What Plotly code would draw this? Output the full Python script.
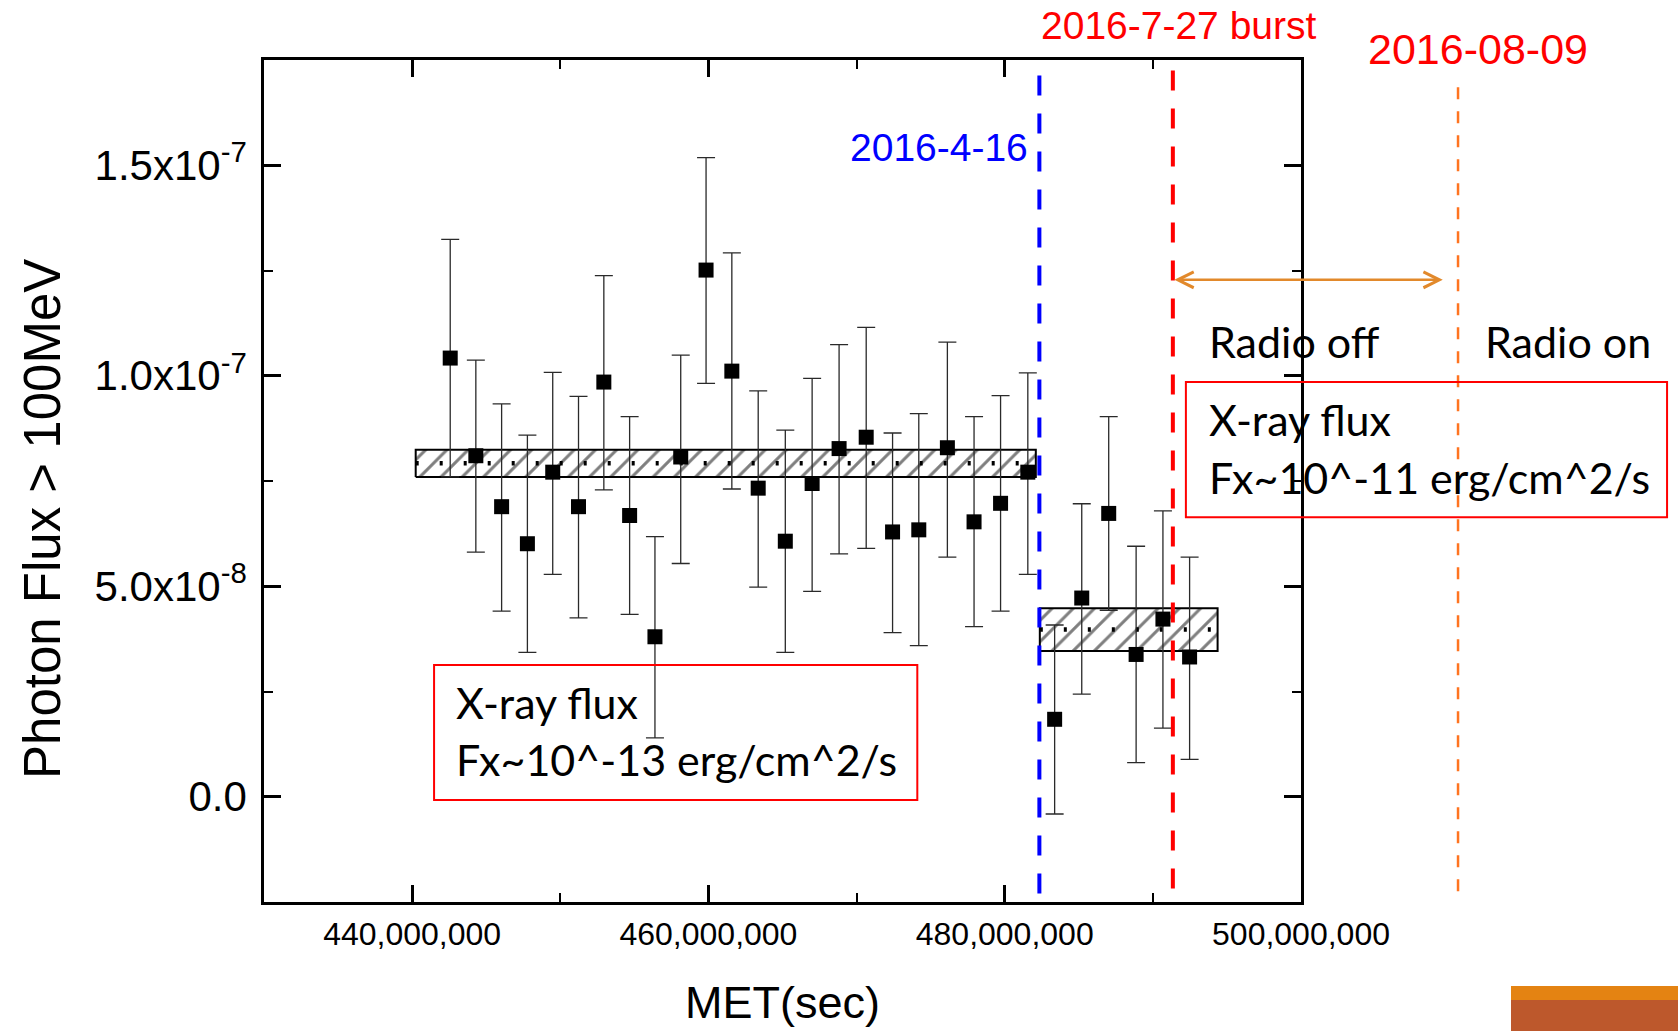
import plotly.graph_objects as go

# ---- Fermi-LAT light curve (> 100 MeV) ----
# bin centres, MET in units of 1e6 s
MET_E6 = [442.57, 444.30, 446.04, 447.78, 449.49, 451.23, 452.94, 454.68, 456.39, 458.13,
          459.84, 461.58, 463.36, 465.19, 467.00, 468.82, 470.65, 472.43, 474.20, 476.13,
          477.93, 479.72, 481.56, 483.37, 485.20, 487.02, 488.87, 490.68, 492.48]
# photon flux and 1-sigma bounds, units of 1e-8 ph cm^-2 s^-1
FLUX_E8 = [10.42, 8.10, 6.89, 6.01, 7.71, 6.89, 9.85, 6.68, 3.80, 8.07,
           12.51, 10.11, 7.33, 6.07, 7.44, 8.27, 8.54, 6.29, 6.34, 8.29,
           6.53, 6.97, 7.71, 1.84, 4.72, 6.73, 3.38, 4.22, 3.32]
FLUX_HI_E8 = [13.24, 10.37, 9.33, 8.59, 10.08, 9.51, 12.38, 9.03, 6.18, 10.49,
              15.18, 12.92, 9.64, 8.71, 9.94, 10.74, 11.15, 8.64, 9.10, 10.80,
              9.03, 9.53, 10.07, 4.08, 6.96, 9.03, 5.95, 6.79, 5.69]
FLUX_LO_E8 = [7.60, 5.81, 4.41, 3.43, 5.28, 4.25, 7.29, 4.33, 1.40, 5.54,
              9.82, 7.31, 4.98, 3.43, 4.88, 5.77, 5.90, 3.90, 3.59, 5.69,
              4.04, 4.41, 5.28, -0.41, 2.44, 4.43, 0.81, 1.63, 0.89]

# average flux before / after 2016-04-16 (mean +/- 1 sigma)
BAND_START_E6 = [440.24, 482.37]
BAND_END_E6 = [482.10, 494.37]
BAND_MEAN_E8 = [7.92, 3.97]
BAND_HALF_E8 = [0.325, 0.51]

# epochs marked on the time axis
EVENT_LABELS = ["2016-4-16", "2016-7-27 burst"]
EVENT_MET_E6 = [482.34, 491.35]
EVENT_COLORS = ["#0000FF", "#FF0000"]
EVENT_TOP_E8 = [17.13, 17.25]
RADIO_ON_LABEL = "2016-08-09"
RADIO_ON_MET_E6 = 510.6
RADIO_ON_TOP_E8 = 16.85
ARROW_LEVEL_E8 = 12.28
ARROW_END_MET_E6 = 509.57

X_TICKS = [440e6, 460e6, 480e6, 500e6]
Y_TICKS = [0.0, 5e-8, 1e-7, 1.5e-7]
Y_TICK_TEXT = ["0.0", "5.0x10<sup>-8</sup>", "1.0x10<sup>-7</sup>", "1.5x10<sup>-7</sup>"]

W, H = 1678, 1031
M_L, M_R, M_T, M_B = 264, 377, 60, 129
PLOT_W = W - M_L - M_R
X_RANGE = [430e6, 500e6]
Y_RANGE = [-2.5e-8, 1.75e-7]

ARIAL = "Arial, Liberation Sans, sans-serif"
CALIBRI = "Lato, Carlito, sans-serif"


def xp(x):
    """data x -> paper x"""
    return (x - X_RANGE[0]) / (X_RANGE[1] - X_RANGE[0])


def yp(y):
    """data y -> paper y"""
    return (y - Y_RANGE[0]) / (Y_RANGE[1] - Y_RANGE[0])


met = [v * 1e6 for v in MET_E6]
flux = [v * 1e-8 for v in FLUX_E8]
err_hi = [(h - f) * 1e-8 for h, f in zip(FLUX_HI_E8, FLUX_E8)]
err_lo = [(f - l) * 1e-8 for f, l in zip(FLUX_E8, FLUX_LO_E8)]

fig = go.Figure()

# hatched mean-flux bands with dotted mean line
for s, e, m, h in zip(BAND_START_E6, BAND_END_E6, BAND_MEAN_E8, BAND_HALF_E8):
    x0, x1 = s * 1e6, e * 1e6
    lo, hi = (m - h) * 1e-8, (m + h) * 1e-8
    fig.add_trace(go.Scatter(
        x=[x0, x1, x1, x0, x0], y=[lo, lo, hi, hi, lo],
        mode="lines", fill="toself", fillcolor="white",
        fillpattern=dict(shape="/", size=15, solidity=0.2,
                         fgcolor="black", bgcolor="white"),
        line=dict(color="black", width=2),
        hoverinfo="skip", showlegend=False))
    fig.add_trace(go.Scatter(
        x=[x0, x1], y=[m * 1e-8, m * 1e-8], mode="lines",
        line=dict(color="black", width=4.5, dash="3px,21px"),
        hoverinfo="skip", showlegend=False))

# light-curve points
fig.add_trace(go.Scatter(
    x=met, y=flux, mode="markers",
    marker=dict(symbol="square", size=15, color="black"),
    error_y=dict(type="data", symmetric=False, array=err_hi, arrayminus=err_lo,
                 width=9, thickness=1.3, color="#2a2a2a"),
    showlegend=False))

# dashed epoch markers inside the frame
for m, c, top in zip(EVENT_MET_E6, EVENT_COLORS, EVENT_TOP_E8):
    fig.add_trace(go.Scatter(
        x=[m * 1e6, m * 1e6], y=[top * 1e-8, Y_RANGE[0]], mode="lines",
        line=dict(color=c, width=4, dash="20px,18px"),
        hoverinfo="skip", showlegend=False))

shapes = [
    # radio-on epoch, beyond the right edge of the frame
    dict(type="line", xref="paper", yref="paper",
         x0=xp(RADIO_ON_MET_E6 * 1e6), x1=xp(RADIO_ON_MET_E6 * 1e6),
         y0=yp(RADIO_ON_TOP_E8 * 1e-8), y1=0,
         line=dict(color="#FF7420", width=2.5, dash="12px,12px")),
    # X-ray flux boxes
    dict(type="rect", xref="paper", yref="paper", x0=0.164, x1=0.630, y0=0.121, y1=0.2815,
         line=dict(color="#FF0000", width=2), fillcolor="rgba(0,0,0,0)"),
    dict(type="rect", xref="paper", yref="paper", x0=0.889, x1=1.353, y0=0.457, y1=0.6176,
         line=dict(color="#FF0000", width=2), fillcolor="rgba(0,0,0,0)"),
    # slide footer accent
    dict(type="rect", xref="paper", yref="paper", x0=1.2025, x1=1.37, y0=-0.1164, y1=-0.0998,
         line=dict(width=0), fillcolor="#E48312"),
    dict(type="rect", xref="paper", yref="paper", x0=1.2025, x1=1.37, y0=-0.16, y1=-0.1164,
         line=dict(width=0), fillcolor="#BD582C"),
]

arrow_tail = xp(EVENT_MET_E6[1] * 1e6)
arrow_tip = xp(ARROW_END_MET_E6 * 1e6)

annotations = [
    # axis titles
    dict(text="Photon Flux > 100MeV", xref="paper", yref="paper", x=-0.2136, y=0.4555,
         textangle=-90, showarrow=False, xanchor="center", yanchor="middle",
         font=dict(family=ARIAL, size=51, color="black")),
    dict(text="MET(sec)", xref="paper", yref="paper", x=0.5, y=-0.1196,
         showarrow=False, xanchor="center", yanchor="middle",
         font=dict(family=ARIAL, size=45, color="black")),
    # epoch labels
    dict(text=EVENT_LABELS[0], xref="x", yref="paper", x=EVENT_MET_E6[0] * 1e6, xshift=-9,
         y=0.8964, showarrow=False, xanchor="right", yanchor="middle",
         font=dict(family=ARIAL, size=39, color=EVENT_COLORS[0])),
    dict(text=EVENT_LABELS[1], xref="paper", yref="paper", x=0.8820, y=1.0415,
         showarrow=False, xanchor="center", yanchor="middle",
         font=dict(family=ARIAL, size=39, color=EVENT_COLORS[1])),
    dict(text=RADIO_ON_LABEL, xref="paper", yref="paper", x=1.1710, y=1.0126,
         showarrow=False, xanchor="center", yanchor="middle",
         font=dict(family=ARIAL, size=43, color="#FF0000")),
    # radio-off interval
    dict(text="", xref="paper", yref="paper", x=arrow_tip, y=yp(ARROW_LEVEL_E8 * 1e-8),
         axref="pixel", ayref="pixel", ax=-(arrow_tip - arrow_tail) * PLOT_W, ay=0,
         showarrow=True, arrowside="end+start", arrowhead=5, startarrowhead=5,
         arrowsize=1.25, startarrowsize=1.25, arrowwidth=2.5, arrowcolor="#E2892B"),
    dict(text="Radio off", xref="paper", yref="paper", x=0.9091, y=0.6656,
         showarrow=False, xanchor="left", yanchor="middle",
         font=dict(family=CALIBRI, size=43, color="black")),
    dict(text="Radio on", xref="paper", yref="paper", x=1.1758, y=0.6656,
         showarrow=False, xanchor="left", yanchor="middle",
         font=dict(family=CALIBRI, size=43, color="black")),
    # X-ray flux notes
    dict(text="X-ray flux", xref="paper", yref="paper", x=0.1835, y=0.2371,
         showarrow=False, xanchor="left", yanchor="middle",
         font=dict(family=CALIBRI, size=43, color="black")),
    dict(text="Fx~10^-13 erg/cm^2/s", xref="paper", yref="paper", x=0.1835, y=0.169,
         showarrow=False, xanchor="left", yanchor="middle",
         font=dict(family=CALIBRI, size=43, color="black")),
    dict(text="X-ray flux", xref="paper", yref="paper", x=0.9091, y=0.5727,
         showarrow=False, xanchor="left", yanchor="middle",
         font=dict(family=CALIBRI, size=43, color="black")),
    dict(text="Fx~10^-11 erg/cm^2/s", xref="paper", yref="paper", x=0.9091, y=0.5043,
         showarrow=False, xanchor="left", yanchor="middle",
         font=dict(family=CALIBRI, size=43, color="black")),
]

fig.update_layout(
    width=W, height=H,
    margin=dict(l=M_L, r=M_R, t=M_T, b=M_B, pad=0),
    paper_bgcolor="white", plot_bgcolor="white",
    showlegend=False,
    shapes=shapes, annotations=annotations,
    xaxis=dict(
        range=X_RANGE, tickvals=X_TICKS, tickformat=",d",
        showgrid=False, zeroline=False,
        showline=True, linecolor="black", linewidth=2.5, mirror="ticks",
        ticks="inside", ticklen=17, tickwidth=2.5, tickcolor="black",
        minor=dict(ticks="inside", ticklen=9, tickwidth=2, tickcolor="black",
                   dtick=10e6, tick0=0, showgrid=False),
        tickfont=dict(family=ARIAL, size=32, color="black"),
        ticklabelstandoff=2,
    ),
    yaxis=dict(
        range=Y_RANGE, tickvals=Y_TICKS, ticktext=Y_TICK_TEXT,
        showgrid=False, zeroline=False,
        showline=True, linecolor="black", linewidth=2.5, mirror="ticks",
        ticks="inside", ticklen=17, tickwidth=2.5, tickcolor="black",
        minor=dict(ticks="inside", ticklen=9, tickwidth=2, tickcolor="black",
                   dtick=2.5e-8, tick0=0, showgrid=False),
        tickfont=dict(family=ARIAL, size=42, color="black"),
        ticklabelstandoff=6,
    ),
)

fig.write_html("out.html")
